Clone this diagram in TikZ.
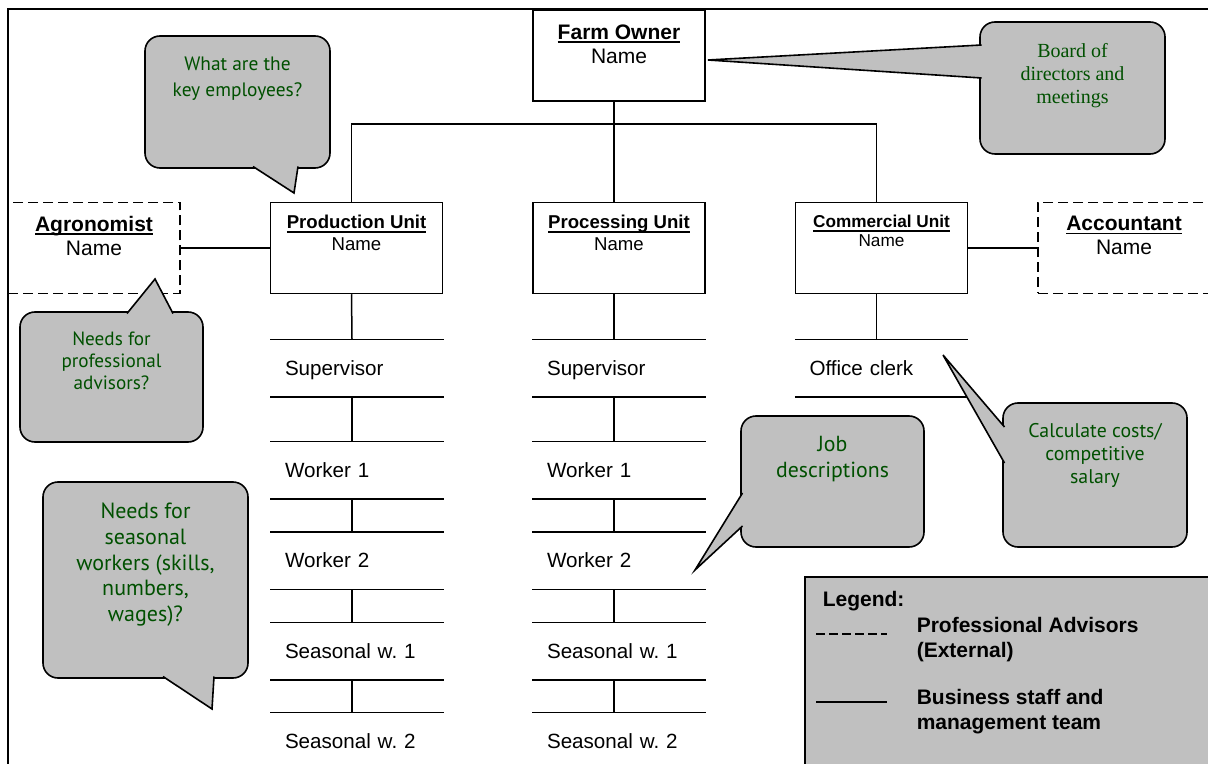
\documentclass[tikz,border=0pt]{standalone}
\usepackage{fontspec}
\setmainfont{Liberation Sans}
\newfontfamily\notefont{PT Sans}
\newfontfamily\boardfont{Liberation Serif}
\definecolor{notegray}{HTML}{C0C0C0}
\definecolor{notegreen}{RGB}{0,80,0}
\frenchspacing
% bold title with a heavy underline
\newcommand{\uhead}[1]{\setbox0\hbox{\textbf{#1}}\rlap{\rule[-1.8pt]{\wd0}{0.9pt}}\box0}
% tail of a speech bubble: base, base, tip
\newcommand{\notetail}[3]{%
  \fill[notegray] #1 -- #3 -- #2 -- cycle;
  \draw[line width=0.8pt] #1 -- #3 -- #2;}
\begin{document}
\begin{tikzpicture}[x=0.5pt,y=-0.5pt,line width=0.75pt,
    unitbox/.style={draw,minimum width=86pt,minimum height=45.5pt,inner sep=0pt},
    advisor/.style={unitbox,dash pattern=on 5pt off 2.5pt},
    boxlabel/.style={anchor=north,inner sep=0pt,align=center},
    staff/.style={minimum width=86pt,minimum height=28pt,text width=72pt,
      inner xsep=7pt,inner ysep=0pt,align=left,text height=7.4pt,text depth=0pt,
      font=\fontsize{10.3}{12}\selectfont},
    note/.style={draw,fill=notegray,rounded corners=7.5pt,line width=0.8pt,inner sep=0pt},
    notetext/.style={anchor=north,inner sep=0pt,align=center,text=notegreen}]
  \useasboundingbox (0,0) rectangle (1208,764);
  % page frame
  \draw[line width=0.85pt] (8,780) -- (8,9) -- (1220,9);

  % owner and units
  \node[unitbox,label={[boxlabel,yshift=-7.5pt,font=\fontsize{10.5}{11.7}\selectfont]north:{\uhead{Farm Owner}\\Name}}] (owner) at (619,55.5) {};
  \node[unitbox,label={[boxlabel,yshift=-6.5pt,font=\fontsize{9.3}{10.7}\selectfont]north:{\uhead{Production Unit}\\Name}}] (prod-unit) at (356.5,248) {};
  \node[unitbox,label={[boxlabel,yshift=-6.5pt,font=\fontsize{9.3}{10.7}\selectfont]north:{\uhead{Processing Unit}\\Name}}] (proc-unit) at (619,248) {};
  \node[unitbox,label={[boxlabel,yshift=-6.5pt,font=\fontsize{8.6}{9.5}\selectfont]north:{\uhead{Commercial Unit}\\Name}}] (comm-unit) at (881.5,248) {};
  \node[advisor,label={[boxlabel,yshift=-6.9pt,font=\fontsize{10.5}{12}\selectfont]north:{\uhead{Agronomist}\\Name}}] (agro) at (94,248) {};
  \node[advisor,label={[boxlabel,yshift=-6.9pt,font=\fontsize{10.5}{12}\selectfont]north:{\uhead{Accountant}\\Name}}] (acct) at (1124,248) {};

  \coordinate (bus) at (614,124);
  \draw ([xshift=-2.5pt]prod-unit.north) |- (bus) -| ([xshift=-2.5pt]comm-unit.north);
  \draw ([xshift=-2.5pt]owner.south) -- ([xshift=-2.5pt]proc-unit.north);
  \draw (agro.east) -- (prod-unit.west);
  \draw (comm-unit.east) -- (acct.west);

  % staff under production and processing
  \foreach \col/\x in {prod/357,proc/619} {
    \node[staff] (\col-sup) at (\x,368) {Supervisor};
    \node[staff] (\col-w1) at (\x,470) {Worker 1};
    \node[staff] (\col-w2) at (\x,560.5) {Worker 2};
    \node[staff] (\col-s1) at (\x,651) {Seasonal w. 1};
    \node[staff] (\col-s2) at (\x,741) {Seasonal w. 2};
    \foreach \n in {sup,w1,w2,s1,s2}
      \draw (\col-\n.north west) -- (\col-\n.north east)
            (\col-\n.south west) -- (\col-\n.south east);
    \foreach \a/\b in {unit/sup,sup/w1,w1/w2,w2/s1,s1/s2}
      \draw ([xshift=-2.5pt]\col-\a.south) -- ([xshift=-2.5pt]\col-\b.north);
  }
  \node[staff] (comm-clerk) at (881.5,368) {Office clerk};
  \draw (comm-clerk.north west) -- (comm-clerk.north east)
        (comm-clerk.south west) -- (comm-clerk.south east);
  \draw ([xshift=-2.5pt]comm-unit.south) -- ([xshift=-2.5pt]comm-clerk.north);

  % speech bubbles
  \node[note,minimum width=92.5pt,minimum height=66pt,label={[notetext,yshift=-10.5pt,font=\notefont\fontsize{9.7}{13}\selectfont]north:{What are the\\key employees?}}] (keynote) at (237.5,102) {};
  \notetail{(253,166.5)}{(298,166.5)}{(294,193)}
  \node[note,minimum width=92.5pt,minimum height=66pt,label={[notetext,yshift=-10.5pt,font=\boardfont\fontsize{10}{11.5}\selectfont]north:{Board of\\directors and\\meetings}}] (boardnote) at (1072.5,88) {};
  \notetail{(981.5,45)}{(981.5,78)}{(708,60)}
  \node[note,minimum width=91.5pt,minimum height=65pt,label={[notetext,yshift=-10pt,font=\notefont\fontsize{9.6}{11}\selectfont]north:{Needs for\\professional\\advisors?}}] (advnote) at (111.5,377) {};
  \notetail{(127,313.5)}{(173,313.5)}{(155,279)}
  \node[note,minimum width=102.5pt,minimum height=98pt,label={[notetext,yshift=-10.5pt,font=\notefont\fontsize{11}{12.9}\selectfont]north:{Needs for\\seasonal\\workers (skills,\\numbers,\\wages)?}}] (seasnote) at (145.5,580) {};
  \notetail{(163,676.5)}{(214,676.5)}{(212,709)}
  \node[note,minimum width=91.5pt,minimum height=65.5pt,label={[notetext,yshift=-10pt,font=\notefont\fontsize{10.9}{12.9}\selectfont]north:{Job\\descriptions}}] (jobnote) at (832.5,481.5) {};
  \notetail{(742.5,493)}{(742.5,526)}{(695,570)}
  \node[note,minimum width=92pt,minimum height=72pt,label={[notetext,yshift=-10pt,font=\notefont\fontsize{9.9}{11.5}\selectfont]north:{Calculate costs/\\competitive\\salary}}] (costnote) at (1095,475) {};
  \notetail{(1004.5,427)}{(1004.5,463)}{(943,355)}

  % legend
  \draw[fill=notegray,line width=0.8pt] (805,577) rectangle (1230,790);
  \node[anchor=north west,inner sep=0pt,font=\bfseries\fontsize{10.5}{12.3}\selectfont] (legend) at (822,591) {Legend:};
  \node[anchor=north west,inner sep=0pt,align=left,font=\bfseries\fontsize{10.5}{12.3}\selectfont] (legend-ext) at (916,617) {Professional Advisors\\(External)};
  \node[anchor=north west,inner sep=0pt,align=left,font=\bfseries\fontsize{10.5}{12.3}\selectfont] (legend-staff) at (916,689) {Business staff and\\management team};
  \draw[dash pattern=on 4.5pt off 2pt] (816,634) -- (887,634);
  \draw (816,702) -- (887,702);
\end{tikzpicture}
\end{document}
